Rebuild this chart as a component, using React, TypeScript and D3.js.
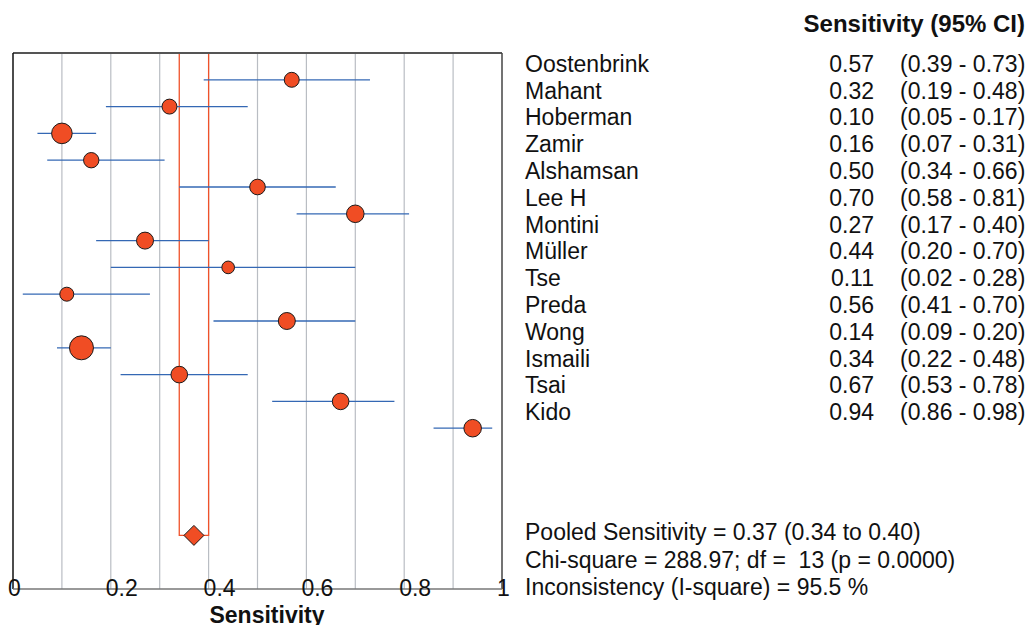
import React from 'react';
import * as d3 from 'd3';

// Study data
const studies = ['Oostenbrink', 'Mahant', 'Hoberman', 'Zamir', 'Alshamsan', 'Lee H', 'Montini', 'Müller', 'Tse', 'Preda', 'Wong', 'Ismaili', 'Tsai', 'Kido'];
const sensitivity = [0.57, 0.32, 0.1, 0.16, 0.5, 0.7, 0.27, 0.44, 0.11, 0.56, 0.14, 0.34, 0.67, 0.94];
const ciLow = [0.39, 0.19, 0.05, 0.07, 0.34, 0.58, 0.17, 0.2, 0.02, 0.41, 0.09, 0.22, 0.53, 0.86];
const ciHigh = [0.73, 0.48, 0.17, 0.31, 0.66, 0.81, 0.4, 0.7, 0.28, 0.7, 0.2, 0.48, 0.78, 0.98];
// relative study weights (marker area)
const weights = [56, 56, 106, 59, 61, 77, 72, 40, 49, 72, 144, 69, 69, 77];

const pooled = { est: 0.37, lo: 0.34, hi: 0.4 };
const tickValues = [0, 0.2, 0.4, 0.6, 0.8, 1];
const gridValues = d3.range(1, 10).map((d) => d / 10);
const statsLines = [
  'Pooled Sensitivity = 0.37 (0.34 to 0.40)',
  'Chi-square = 288.97; df =  13 (p = 0.0000)',
  'Inconsistency (I-square) = 95.5 %',
];

const FONT = '"Liberation Sans", Arial, sans-serif';

const App = () => {
  const left = 13;
  const right = 502;
  const top = 53;
  const bottom = 589;

  const x = d3.scaleLinear().domain([0, 1]).range([left, right]);
  // row index: -1 = top border, 19 = axis line
  const y = d3.scaleLinear().domain([-1, 19]).range([top, bottom]);
  const r = d3.scaleSqrt().domain([0, 144]).range([0, 12]);

  const pooledRow = 17;
  const py = y(pooledRow);
  const dh = 10;
  const diamond = d3.line()([
    [x(pooled.est) - dh, py],
    [x(pooled.est), py - dh],
    [x(pooled.est) + dh, py],
    [x(pooled.est), py + dh],
  ]) + 'Z';

  const orange = '#f0522a';

  return (
    <svg width={1032} height={625} style={{ position: 'absolute', left: 0, top: 0 }} fontFamily={FONT}>
      <rect width={1032} height={625} fill="#fff" />

      {/* grid */}
      {gridValues.map((g) => (
        <line key={g} x1={x(g)} x2={x(g)} y1={top} y2={bottom} stroke="#b9bdc3" strokeWidth={1.2} />
      ))}

      {/* pooled CI band */}
      <path
        d={`M${x(pooled.lo)},${top}V${py}H${x(pooled.est)}M${x(pooled.hi)},${top}V${py}H${x(pooled.est)}`}
        fill="none"
        stroke={orange}
        strokeWidth={1.3}
      />

      {/* frame */}
      <line x1={left} x2={right} y1={top} y2={top} stroke="#555" strokeWidth={2} />
      <line x1={left} x2={left} y1={top} y2={bottom} stroke="#111" strokeWidth={1.5} />
      <line x1={right} x2={right} y1={top} y2={bottom} stroke="#444" strokeWidth={1.5} />
      <line x1={left} x2={right} y1={bottom} y2={bottom} stroke="#777" strokeWidth={1.5} />

      {/* study CIs and points */}
      {studies.map((s, i) => (
        <g key={s}>
          <line x1={x(ciLow[i])} x2={x(ciHigh[i])} y1={y(i)} y2={y(i)} stroke="#3468b4" strokeWidth={1.3} />
          <circle cx={x(sensitivity[i])} cy={y(i)} r={r(weights[i])} fill="#f04d24" stroke="#1a1a1a" strokeWidth={1} />
        </g>
      ))}

      <path d={diamond} fill="#f04d24" stroke="#1a1a1a" strokeWidth={1} />

      {/* axis tick labels */}
      {tickValues.map((t) => (
        <text key={t} x={x(t) - 5} y={596} fontSize={23} fill="#111">
          {d3.format('~g')(t)}
        </text>
      ))}
      <text x={267} y={623} fontSize={23} fontWeight="bold" textAnchor="middle" fill="#111">
        Sensitivity
      </text>

      {/* table */}
      <text x={1025} y={32} fontSize={24} fontWeight="bold" textAnchor="end" fill="#111">
        Sensitivity (95% CI)
      </text>
      {studies.map((s, i) => (
        <g key={'t' + s} fontSize={23} fill="#111">
          <text x={525} y={y(i) - 8}>{s}</text>
          <text x={874} y={y(i) - 8} textAnchor="end">{sensitivity[i].toFixed(2)}</text>
          <text x={900} y={y(i) - 8}>
            {`(${ciLow[i].toFixed(2)} - ${ciHigh[i].toFixed(2)})`}
          </text>
        </g>
      ))}

      {statsLines.map((l, i) => (
        <text key={l} x={525} y={540 + i * 27.5} fontSize={23} fill="#111" style={{ whiteSpace: 'pre' }}>
          {l}
        </text>
      ))}
    </svg>
  );
};

export default App;
